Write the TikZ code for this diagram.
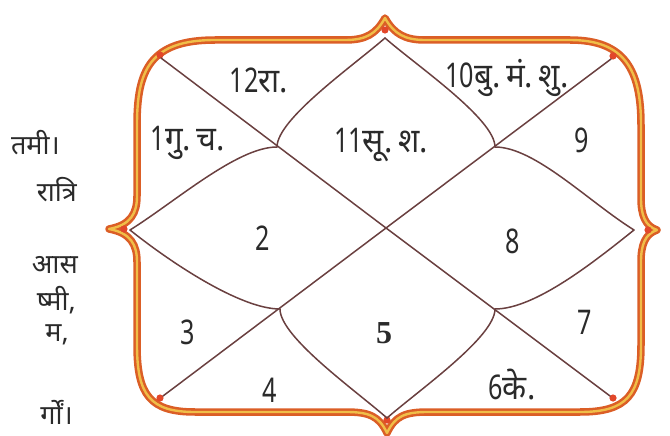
\documentclass[tikz,border=0pt]{standalone}
\usepackage{fontspec}
\usetikzlibrary{calc}
\newfontfamily\devc[Script=Devanagari,FakeStretch=0.92]{Noto Sans}
\newfontfamily\dnum[FakeStretch=0.74]{Noto Sans}
\newfontfamily\devt[Script=Devanagari]{Noto Sans}
\newfontfamily\numserif{Liberation Serif}
\definecolor{frameout}{HTML}{DB5E26}
\definecolor{framein}{HTML}{F0BE48}
\definecolor{knot}{HTML}{E2472A}
\definecolor{chartline}{HTML}{6A4040}
\definecolor{txt}{HTML}{2A2A2A}
\tikzset{
  frameline/.style={line width=7.5pt,draw=frameout,line join=round},
  framehl/.style={line width=2.4pt,draw=framein,line join=round},
  chart/.style={line width=1.5pt,draw=chartline,line cap=round},
  house/.style={font=\devc\fontsize{34}{36}\selectfont,text=txt,inner sep=0pt},
  side/.style={font=\devt\fontsize{27}{30}\selectfont,text=txt,inner sep=0pt,anchor=east},
  knotdot/.style={fill=knot,draw=none}
}
\begin{document}
\begin{tikzpicture}[x=1pt,y=-1pt]
\useasboundingbox (0,0) rectangle (670,436);
% frame points
\coordinate (Ft) at (385,18);
\coordinate (Fr) at (657,230);
\coordinate (Fb) at (387,433);
\coordinate (Fl) at (109,229);
\def\framepath{(Ft) .. controls (394,34) and (405,40) .. (425,40) -- (570,40)
  .. controls (625,40) and (641,70) .. (641,125) -- (641,198)
  .. controls (641,215) and (645,226) .. (Fr)
  .. controls (645,234) and (641,245) .. (641,262) -- (641,345)
  .. controls (641,395) and (627,412) .. (580,412) -- (428,412)
  .. controls (405,412) and (395,416) .. (Fb)
  .. controls (379,416) and (369,412) .. (346,412) -- (195,412)
  .. controls (150,412) and (137,395) .. (137,345) -- (137,262)
  .. controls (137,245) and (131,233) .. (Fl)
  .. controls (131,225) and (137,213) .. (137,196) -- (137,125)
  .. controls (137,70) and (150,40) .. (215,40) -- (345,40)
  .. controls (366,40) and (376,34) .. (Ft) -- cycle}
\path[frameline] \framepath;
\path[framehl] \framepath;
% knots
\foreach \p in {(160,55),(613,56),(613,398),(160,398),(385,30),(387,420),(124,229),(648,230)}
  \fill[knotdot] \p circle (3.6);
% chart points
\coordinate (TL) at (161,58);
\coordinate (TR) at (611,59);
\coordinate (BR) at (610,396);
\coordinate (BL) at (163,396);
\coordinate (C) at (386,228);
\coordinate (T) at (385,38);
\coordinate (B) at (387,418);
\coordinate (L) at (130,230);
\coordinate (R) at (634,230);
\coordinate (P1) at (277,147);
\coordinate (P2) at (495,147);
\coordinate (P3) at (280,309);
\coordinate (P4) at (495,309);
% diagonals
\draw[chart] (TL) -- (C) -- (BR);
\draw[chart] (TR) -- (C) -- (BL);
% petal curves
\draw[chart] (T) .. controls ($(T)+(-32,28)$) and ($(P1)+(0,-28)$) .. (P1);
\draw[chart] (P1) .. controls ($(P1)+(-40,0)$) and ($(L)+(45,-28)$) .. (L);
\draw[chart] (L) .. controls ($(L)+(40,32)$) and ($(P3)+(-40,0)$) .. (P3);
\draw[chart] (P3) .. controls ($(P3)+(0,28)$) and ($(B)+(-32,-28)$) .. (B);
\draw[chart] (T) .. controls ($(T)+(32,28)$) and ($(P2)+(0,-28)$) .. (P2);
\draw[chart] (P2) .. controls ($(P2)+(40,0)$) and ($(R)+(-45,-28)$) .. (R);
\draw[chart] (R) .. controls ($(R)+(-40,32)$) and ($(P4)+(40,0)$) .. (P4);
\draw[chart] (P4) .. controls ($(P4)+(0,28)$) and ($(B)+(32,-28)$) .. (B);
% house labels
\node[house] (h12) at (259,80) {{\dnum 12}रा.};
\node[house] (h1) at (188,143) {{\dnum 1}गु.\,च.};
\node[house] (h11) at (381,145) {{\dnum 11}सू.\,श.};
\node[house] (h10) at (507,78) {{\dnum 10}बु.\,मं.\,शु.};
\node[house] (h9) at (582,140) {\dnum 9};
\node[house] (h2) at (263,238) {\dnum 2};
\node[house] (h8) at (513,241) {\dnum 8};
\node[house] (h3) at (188,332) {\dnum 3};
\node[house,font=\numserif\bfseries\fontsize{32}{34}\selectfont] (h5) at (384,333) {5};
\node[house] (h7) at (585,322) {\dnum 7};
\node[house] (h4) at (270,390) {\dnum 4};
\node[house] (h6) at (512,385) {{\dnum 6}के.};
% cut text at left
\node[side] (s1) at (60,143) {तमी।};
\node[side] (s2) at (77,190) {रात्रि};
\node[side] (s3) at (78,265) {आस};
\node[side] (s4) at (76,300) {ष्मी,};
\node[side] (s5) at (69,335) {म,};
\node[side] (s6) at (73,412) {र्गों।};
\end{tikzpicture}
\end{document}
